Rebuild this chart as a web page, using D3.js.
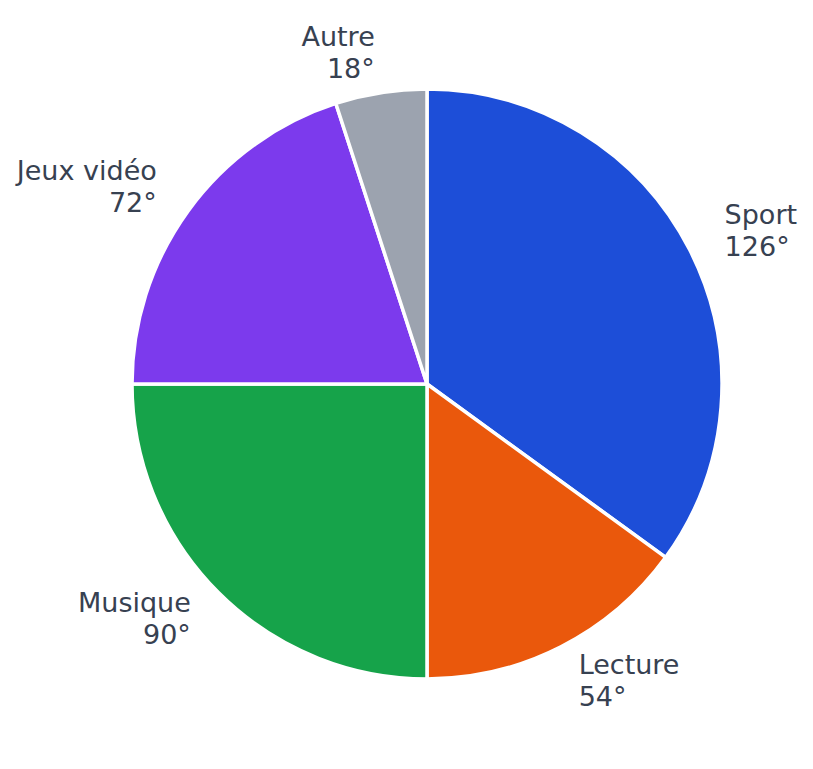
<!DOCTYPE html>
<html>
<head>
<meta charset="utf-8">
<script src="https://cdn.jsdelivr.net/npm/d3@7.9.0/dist/d3.min.js"></script>
<style>
  body { margin: 0; background: #fff; }
  text { font-family: "DejaVu Sans", sans-serif; fill: #374151; }
</style>
</head>
<body>
<svg id="chart" width="813" height="769"></svg>
<script>
// Data
const labels = ['Sport', 'Lecture', 'Musique', 'Jeux vidéo', 'Autre'];
const degrees = [126, 54, 90, 72, 18];
const colors = ['#1d4ed8', '#ea580c', '#16a34a', '#7c3aed', '#9ca3af'];

const cx = 427, cy = 384;
const radius = 295;
const labelRadius = 334;

const pieData = labels.map((label, i) => ({ label, value: degrees[i], color: colors[i] }));

const pie = d3.pie().sort(null).value(d => d.value);
const arcData = pie(pieData);

const arcGen = d3.arc().innerRadius(0).outerRadius(radius);
const labelArc = d3.arc().innerRadius(labelRadius).outerRadius(labelRadius);

const svg = d3.select('#chart');
const g = svg.append('g').attr('transform', `translate(${cx},${cy})`);

// slices
g.selectAll('path')
  .data(arcData)
  .join('path')
  .attr('d', arcGen)
  .attr('fill', d => d.data.color)
  .attr('stroke', '#fff')
  .attr('stroke-width', 3.5)
  .attr('stroke-linejoin', 'round');

// labels: name + degrees on two lines
const lbl = g.selectAll('text.lbl')
  .data(arcData)
  .join('text')
  .attr('class', 'lbl')
  .attr('font-size', 27)
  .attr('transform', d => `translate(${labelArc.centroid(d)})`)
  .attr('text-anchor', d => labelArc.centroid(d)[0] >= 0 ? 'start' : 'end');

lbl.append('tspan')
  .attr('x', 0)
  .attr('y', -8)
  .text(d => d.data.label);

lbl.append('tspan')
  .attr('x', 0)
  .attr('y', 24)
  .text(d => `${d.data.value}°`);
</script>
</body>
</html>
